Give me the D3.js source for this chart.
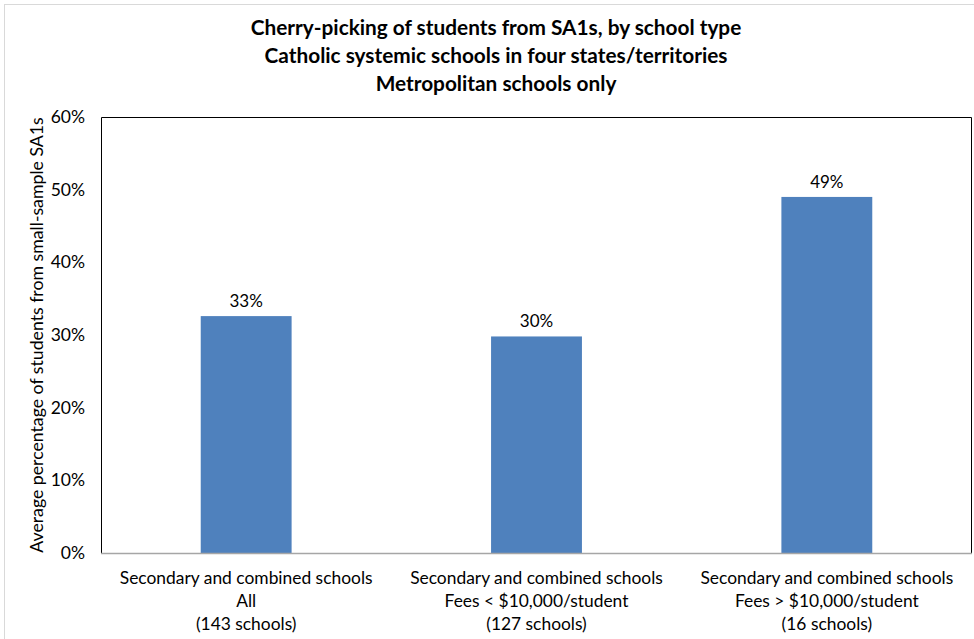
<!DOCTYPE html>
<html>
<head>
<meta charset="utf-8">
<script src="https://cdn.jsdelivr.net/npm/d3@7"></script>
<style>
  html, body { margin: 0; padding: 0; background: #fff; }
  svg text { font-family: Lato, "Open Sans", sans-serif; fill: #000; }
</style>
</head>
<body>
<svg id="chart" width="974" height="639"></svg>
<script>
// School groups along the x axis (each label is three lines)
const categories = [
  ["Secondary and combined schools", "All", "(143 schools)"],
  ["Secondary and combined schools", "Fees < $10,000/student", "(127 schools)"],
  ["Secondary and combined schools", "Fees > $10,000/student", "(16 schools)"]
];
// Average share of students from small-sample SA1s
const values = [0.326, 0.298, 0.49];
const yTicks = [0, 0.1, 0.2, 0.3, 0.4, 0.5, 0.6];
const titleLines = [
  "Cherry-picking of students from SA1s, by school type",
  "Catholic systemic schools in four states/territories",
  "Metropolitan schools only"
];
const yTitle = "Average percentage of students from small-sample SA1s";

const svg = d3.select("#chart");
const W = 974, H = 639;
const plot = { left: 101, top: 117, right: 972, bottom: 553 };

// Outer chart frame
svg.append("rect")
  .attr("x", 4.5).attr("y", 4.5)
  .attr("width", W + 10).attr("height", H + 10)
  .attr("fill", "#fff").attr("stroke", "#d9d9d9");

// Title
svg.append("g").selectAll("text").data(titleLines).join("text")
  .attr("x", 496).attr("y", (d, i) => 35 + i * 28)
  .attr("text-anchor", "middle")
  .attr("font-size", 20.8).attr("font-weight", "bold")
  .text(d => d);

const x = d3.scaleBand()
  .domain(d3.range(categories.length))
  .range([plot.left, plot.right])
  .padding(0);
const y = d3.scaleLinear().domain([0, 0.6]).range([plot.bottom, plot.top]);
const barW = x.bandwidth() * 0.313;

// Plot area border (left, top, right)
svg.append("path")
  .attr("d", `M${plot.left + 0.5},${plot.bottom}V${plot.top + 0.5}H${plot.right - 0.5}V${plot.bottom}`)
  .attr("fill", "none").attr("stroke", "#000").attr("stroke-width", 1);

// Bars
svg.append("g").selectAll("rect").data(values).join("rect")
  .attr("x", (d, i) => x(i) + (x.bandwidth() - barW) / 2)
  .attr("width", barW)
  .attr("y", d => y(d))
  .attr("height", d => y(0) - y(d))
  .attr("fill", "#4f81bd");

// Value labels
const fmt = d3.format(".0%");
svg.append("g").selectAll("text").data(values).join("text")
  .attr("x", (d, i) => x(i) + x.bandwidth() / 2)
  .attr("y", d => y(d) - 9)
  .attr("text-anchor", "middle")
  .attr("font-size", 17)
  .text(d => fmt(d));

// Y axis
const yAxis = d3.axisLeft(y).tickValues(yTicks).tickFormat(fmt).tickSize(0).tickPadding(16);
const gy = svg.append("g").attr("transform", `translate(${plot.left},0)`).call(yAxis);
gy.select(".domain").remove();
gy.selectAll("text").attr("font-size", 17.5).attr("font-family", "Lato, sans-serif");

// X axis baseline
const xAxis = d3.axisBottom(x).tickSize(0).tickFormat("");
const gx = svg.append("g").attr("transform", `translate(0,${plot.bottom})`).call(xAxis);
gx.select(".domain").attr("stroke", "#a6a6a6").attr("stroke-width", 1.5)
  .attr("d", `M${plot.left},0.5H${plot.right}`);

// Category labels
const cat = svg.append("g").selectAll("text").data(categories).join("text")
  .attr("text-anchor", "middle")
  .attr("font-size", 17.4);
cat.selectAll("tspan").data((d, i) => d.map(s => ({ s, i }))).join("tspan")
  .attr("x", d => x(d.i) + x.bandwidth() / 2)
  .attr("y", (d, j) => 584 + j * 23)
  .text(d => d.s);

// Y axis title
svg.append("text")
  .attr("transform", `translate(43,${(plot.top + plot.bottom) / 2}) rotate(-90)`)
  .attr("text-anchor", "middle")
  .attr("font-size", 17.7)
  .text(yTitle);
</script>
</body>
</html>
